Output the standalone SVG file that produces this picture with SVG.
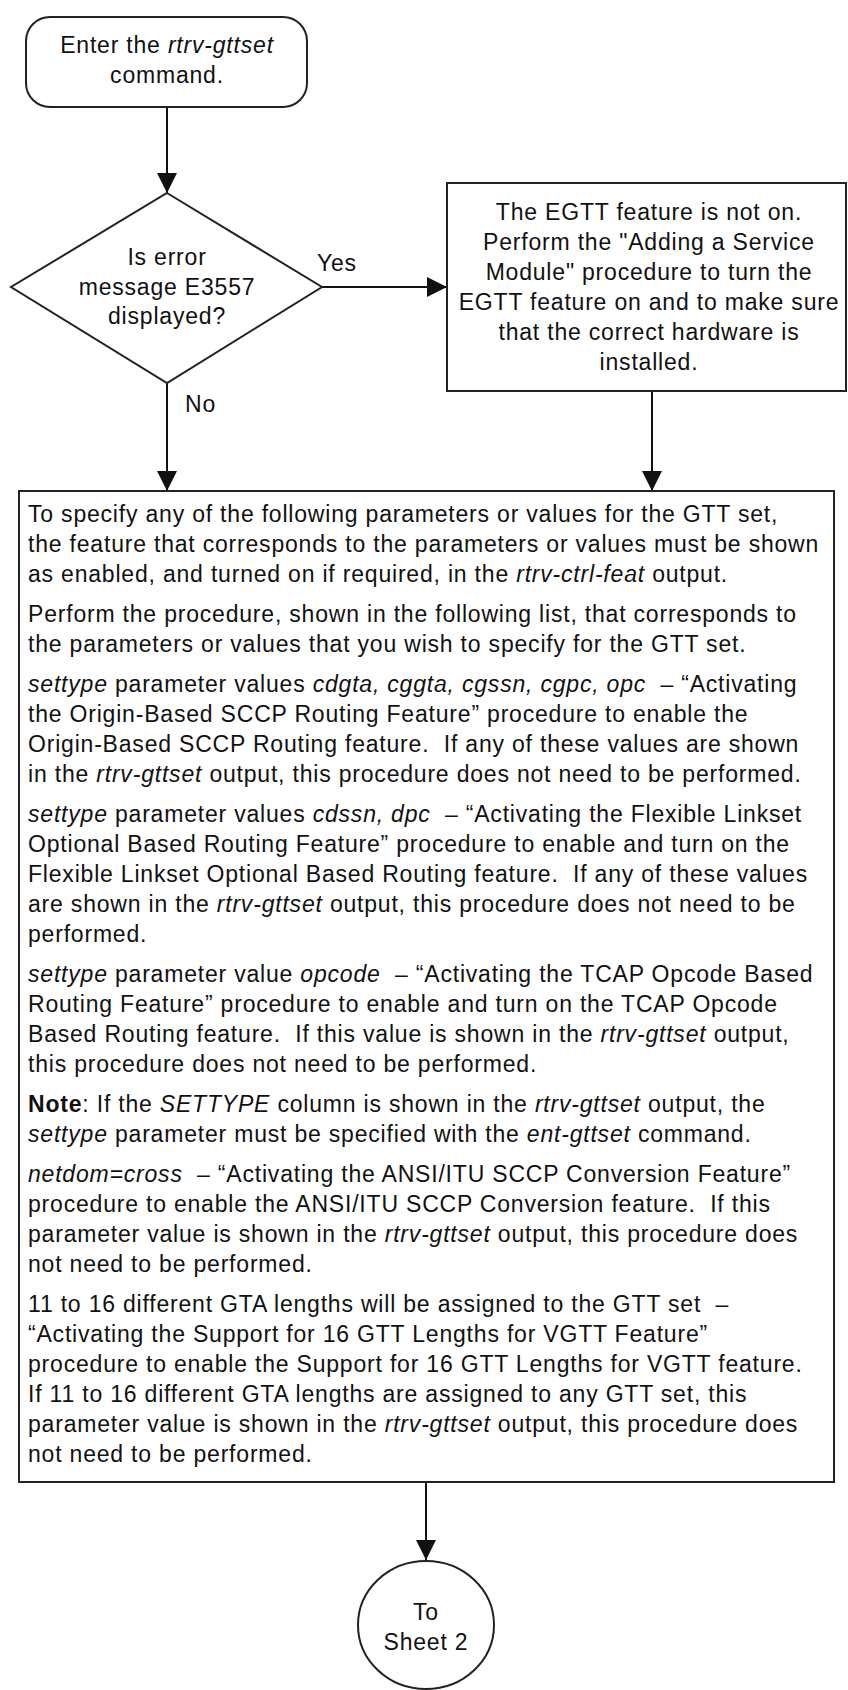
<svg xmlns="http://www.w3.org/2000/svg" width="848" height="1690" viewBox="0 0 848 1690">
<style>
.t { font-family: "Liberation Sans", Arial, sans-serif; font-size: 23px; letter-spacing: 0.8px; fill: #111; white-space: pre; }
.c { text-anchor: middle; }
.i { font-style: italic; }
.b { font-weight: bold; }
.shape { fill: #fff; stroke: #222; stroke-width: 2; }
.conn { stroke: #111; stroke-width: 2; fill: none; marker-end: url(#arr); }
</style>
<defs>
<marker id="arr" markerUnits="userSpaceOnUse" markerWidth="20" markerHeight="20" refX="20" refY="10" orient="auto">
<path d="M0,0 L20,10 L0,20 z" fill="#111"/>
</marker>
</defs>
<rect width="848" height="1690" fill="#fff"/>

<g id="connectors">
<path class="conn" d="M167,107 V193"/>
<path class="conn" d="M322,287 H447"/>
<path class="conn" d="M167,383 V491"/>
<path class="conn" d="M652,391 V491"/>
<path class="conn" d="M426,1482 V1560"/>
<text class="t" x="317" y="271">Yes</text>
<text class="t" x="185" y="412">No</text>
</g>

<g id="node-start">
<rect class="shape" x="26" y="17" width="281" height="90" rx="24" ry="24"/>
<text class="t c" x="167" y="53">Enter the <tspan class="i">rtrv-gttset</tspan></text>
<text class="t c" x="167" y="83">command.</text>
</g>

<g id="node-decision">
<polygon class="shape" points="167,193 322,287 167,383 11,287"/>
<text class="t c" x="167" y="265">Is error</text>
<text class="t c" x="167" y="295">message E3557</text>
<text class="t c" x="167" y="324">displayed?</text>
</g>

<g id="node-egtt">
<rect class="shape" x="447" y="183" width="399" height="208"/>
<text class="t c" x="649" y="220">The EGTT feature is not on.</text>
<text class="t c" x="649" y="250">Perform the "Adding a Service</text>
<text class="t c" x="649" y="280">Module" procedure to turn the</text>
<text class="t c" x="649" y="310">EGTT feature on and to make sure</text>
<text class="t c" x="649" y="340">that the correct hardware is</text>
<text class="t c" x="649" y="370">installed.</text>
</g>

<g id="node-info">
<rect class="shape" x="19" y="491" width="815" height="991"/>
<text class="t" x="28" y="522">To specify any of the following parameters or values for the GTT set,</text>
<text class="t" x="28" y="552">the feature that corresponds to the parameters or values must be shown</text>
<text class="t" x="28" y="582">as enabled, and turned on if required, in the <tspan class="i">rtrv-ctrl-feat</tspan> output.</text>

<text class="t" x="28" y="622">Perform the procedure, shown in the following list, that corresponds to</text>
<text class="t" x="28" y="652">the parameters or values that you wish to specify for the GTT set.</text>

<text class="t" x="28" y="692"><tspan class="i">settype</tspan> parameter values <tspan class="i">cdgta, cggta, cgssn, cgpc, opc</tspan>  – “Activating</text>
<text class="t" x="28" y="722">the Origin-Based SCCP Routing Feature” procedure to enable the</text>
<text class="t" x="28" y="752">Origin-Based SCCP Routing feature.  If any of these values are shown</text>
<text class="t" x="28" y="782">in the <tspan class="i">rtrv-gttset</tspan> output, this procedure does not need to be performed.</text>

<text class="t" x="28" y="822"><tspan class="i">settype</tspan> parameter values <tspan class="i">cdssn, dpc</tspan>  – “Activating the Flexible Linkset</text>
<text class="t" x="28" y="852">Optional Based Routing Feature” procedure to enable and turn on the</text>
<text class="t" x="28" y="882">Flexible Linkset Optional Based Routing feature.  If any of these values</text>
<text class="t" x="28" y="912">are shown in the <tspan class="i">rtrv-gttset</tspan> output, this procedure does not need to be</text>
<text class="t" x="28" y="942">performed.</text>

<text class="t" x="28" y="982"><tspan class="i">settype</tspan> parameter value <tspan class="i">opcode</tspan>  – “Activating the TCAP Opcode Based</text>
<text class="t" x="28" y="1012">Routing Feature” procedure to enable and turn on the TCAP Opcode</text>
<text class="t" x="28" y="1042">Based Routing feature.  If this value is shown in the <tspan class="i">rtrv-gttset</tspan> output,</text>
<text class="t" x="28" y="1072">this procedure does not need to be performed.</text>

<text class="t" x="28" y="1112"><tspan class="b">Note</tspan>: If the <tspan class="i">SETTYPE</tspan> column is shown in the <tspan class="i">rtrv-gttset</tspan> output, the</text>
<text class="t" x="28" y="1142"><tspan class="i">settype</tspan> parameter must be specified with the <tspan class="i">ent-gttset</tspan> command.</text>

<text class="t" x="28" y="1182"><tspan class="i">netdom=cross</tspan>  – “Activating the ANSI/ITU SCCP Conversion Feature”</text>
<text class="t" x="28" y="1212">procedure to enable the ANSI/ITU SCCP Conversion feature.  If this</text>
<text class="t" x="28" y="1242">parameter value is shown in the <tspan class="i">rtrv-gttset</tspan> output, this procedure does</text>
<text class="t" x="28" y="1272">not need to be performed.</text>

<text class="t" x="28" y="1312">11 to 16 different GTA lengths will be assigned to the GTT set  –</text>
<text class="t" x="28" y="1342">“Activating the Support for 16 GTT Lengths for VGTT Feature”</text>
<text class="t" x="28" y="1372">procedure to enable the Support for 16 GTT Lengths for VGTT feature.</text>
<text class="t" x="28" y="1402">If 11 to 16 different GTA lengths are assigned to any GTT set, this</text>
<text class="t" x="28" y="1432">parameter value is shown in the <tspan class="i">rtrv-gttset</tspan> output, this procedure does</text>
<text class="t" x="28" y="1462">not need to be performed.</text>
</g>

<g id="node-offpage">
<ellipse class="shape" cx="426" cy="1625" rx="68" ry="64"/>
<text class="t c" x="426" y="1620">To</text>
<text class="t c" x="426" y="1650">Sheet 2</text>
</g>
</svg>
